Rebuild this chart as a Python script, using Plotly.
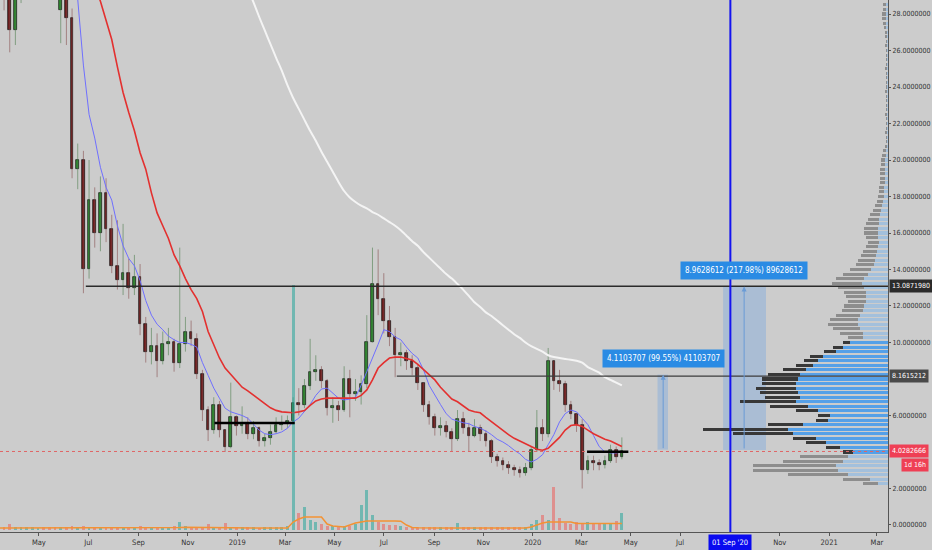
import numpy as np
import pandas as pd
import plotly.graph_objects as go

# ---------------- data (weekly aggregation) ----------------
week_start = "2018-03-12"
n_weeks = 111
dates = pd.date_range(week_start, periods=n_weeks, freq="7D")

open_ = [31.5, 30.5, 29.0, 27.1, 29.2, 31.0, 32.5, 33.5, 34.0, 33.0,
         32.0, 28.2, 29.6, 27.8, 19.5, 20.0, 14.0, 17.8, 16.0, 18.2,
         16.2, 14.2, 13.4, 13.8, 13.0, 13.6, 11.0, 9.5, 9.8, 9.0,
         9.9, 10.0, 8.9, 9.9, 10.6, 10.2, 8.3, 6.3, 5.2, 6.6,
         5.2, 4.3, 5.9, 5.4, 5.6, 5.0, 5.3, 4.6, 4.75, 5.1,
         5.5, 5.6, 5.7, 6.7, 6.6, 7.6, 8.4, 8.5, 7.9, 6.4,
         6.5, 6.3, 8.0, 7.2, 7.3, 7.7, 10.0, 13.2, 12.4, 11.2,
         10.3, 9.3, 9.4, 9.0, 8.6, 7.8, 6.6, 5.9, 5.3, 5.45,
         5.1, 4.7, 5.8, 5.3, 4.9, 5.3, 5.0, 4.6, 3.7, 3.5,
         3.3, 3.1, 3.0, 2.85, 3.1, 4.1, 5.3, 5.0, 9.0, 7.9,
         7.7, 6.6, 6.1, 5.5, 3.0, 3.5, 3.4, 3.3, 3.5, 4.1,
         3.7]
close = [30.5, 29.0, 27.1, 29.2, 31.0, 32.5, 33.5, 34.0, 33.0, 32.0,
         30.5, 29.6, 27.8, 19.5, 20.0, 14.0, 17.8, 16.0, 18.2, 16.2,
         14.2, 13.4, 13.8, 13.0, 13.6, 11.0, 9.5, 9.8, 9.0, 9.9,
         10.0, 8.9, 9.9, 10.6, 10.2, 8.3, 6.3, 5.2, 6.6, 5.2,
         4.3, 5.9, 5.4, 5.6, 5.0, 5.3, 4.6, 4.75, 5.1, 5.5,
         5.6, 5.7, 6.7, 6.6, 7.6, 8.4, 8.5, 7.9, 6.4, 6.5,
         6.3, 8.0, 7.2, 7.3, 7.7, 10.0, 13.2, 12.4, 11.2, 10.3,
         9.3, 9.4, 9.0, 8.6, 7.8, 6.6, 5.9, 5.3, 5.45, 5.1,
         4.7, 5.8, 5.3, 4.9, 5.3, 5.0, 4.6, 3.7, 3.5, 3.3,
         3.1, 3.0, 2.85, 3.1, 4.1, 5.3, 5.0, 9.0, 7.9, 7.7,
         6.6, 6.1, 5.5, 3.0, 3.5, 3.4, 3.3, 3.5, 4.1, 3.7,
         4.03]
high = [32.0, 31.0, 29.6, 30.0, 32.0, 33.5, 34.5, 35.0, 34.5, 33.5,
        32.5, 30.5, 30.0, 28.3, 20.9, 20.5, 20.0, 18.5, 19.1, 19.0,
        17.0, 16.7, 16.5, 14.6, 14.8, 14.3, 11.4, 10.8, 10.5, 10.6,
        10.8, 10.2, 15.2, 11.4, 11.2, 10.5, 8.5, 6.5, 7.0, 6.8,
        5.2, 7.8, 6.0, 6.5, 5.9, 5.7, 5.4, 5.0, 5.5, 5.9,
        6.0, 6.0, 7.0, 7.5, 8.0, 10.2, 9.3, 8.7, 8.0, 7.0,
        6.8, 8.7, 8.5, 8.0, 8.2, 11.5, 15.2, 15.1, 13.8, 12.0,
        10.8, 10.0, 9.6, 9.3, 8.8, 7.8, 6.8, 6.1, 5.9, 5.7,
        5.3, 6.3, 6.2, 5.6, 5.8, 5.5, 5.2, 4.7, 3.9, 3.7,
        3.5, 3.3, 3.2, 3.4, 4.3, 6.3, 5.8, 9.7, 9.0, 8.5,
        7.9, 6.8, 6.1, 5.8, 3.8, 3.8, 3.6, 3.8, 4.4, 4.3,
        4.8]
low = [30.0, 28.2, 25.9, 26.3, 28.6, 30.5, 31.8, 32.5, 32.0, 31.0,
       29.8, 26.4, 26.3, 19.0, 18.4, 12.7, 13.5, 15.2, 15.0, 15.5,
       13.8, 12.9, 12.6, 12.4, 12.6, 10.4, 8.9, 8.8, 8.1, 8.8,
       9.3, 8.4, 8.6, 9.5, 9.8, 8.0, 5.7, 4.6, 5.0, 4.8,
       4.0, 4.2, 4.9, 5.0, 4.7, 4.7, 4.3, 4.3, 4.4, 5.0,
       5.2, 5.3, 5.5, 6.0, 6.4, 7.4, 7.9, 7.5, 6.0, 5.6,
       5.7, 6.2, 5.9, 6.8, 6.6, 7.5, 10.0, 11.5, 10.5, 9.8,
       8.1, 8.7, 8.5, 8.2, 7.4, 6.2, 5.5, 4.9, 4.9, 4.8,
       4.0, 4.6, 5.0, 4.0, 4.8, 4.6, 4.3, 3.4, 3.2, 3.0,
       2.8, 2.7, 2.6, 2.7, 3.0, 4.0, 4.6, 4.8, 7.4, 7.3,
       6.2, 5.8, 5.1, 2.0, 2.8, 3.0, 3.0, 3.1, 3.4, 3.4,
       3.6]

volume = [3, 3, 6, 3, 3, 3, 3, 2, 3, 3, 3, 3, 3, 4, 3,
          4, 3, 3, 3, 2, 3, 3, 3, 3, 3, 4, 3, 3, 3, 3, 3,
          4, 8, 4, 3, 3, 3, 6, 3, 3, 7,
          3, 3, 3, 3, 3, 2, 3, 3, 3, 3, 4,
          245, 17, 23, 10, 8, 6, 4, 4, 4, 4, 4, 6, 25, 40, 15, 8, 6, 5, 5,
          4, 3, 3, 3, 3, 3, 3, 3, 3, 3,
          7,
          3, 3, 3, 3, 3, 3, 3, 3, 3, 3, 3, 3,
          6, 10, 15, 10, 43, 12,
          7, 6, 8, 7, 8, 6, 7, 6, 7,
          9, 17]
vol_ma = [2, 2, 2.2, 2.2, 2, 2, 2, 2, 2, 2, 2, 2, 2.1, 2.2, 2.2, 2.2,
          2.1, 2, 2, 2, 2, 2, 2, 2, 2, 2.1, 2.1, 2, 2, 2, 2,
          2.4, 2.6, 2.8, 2.8, 2.7, 2.6, 2.8, 2.8, 2.7, 2.8, 2.6, 2.4, 2.3, 2.3,
          2.1, 2, 2, 2, 2, 2, 2.1,
          8, 11, 13, 13, 13.5, 13, 6, 4, 3.5, 3, 5, 7, 8, 9, 9, 9.2, 9.2, 9, 9, 8.8, 5,
          2.5, 2.2, 2, 2, 2, 2, 2, 2, 2.2, 2.2, 2, 2, 2, 2, 2, 2, 2, 2, 2, 2, 2,
          3, 5, 7, 8, 8, 8.5, 8.2, 8,
          6.5, 6.6, 6.5, 6.5, 6.4, 6.5, 6.5, 6.6, 6.5]

ma_blue = [None] * 13 + [
    30.5, 28.8, 25.2, 22.5, 21.2, 19.6, 18.5, 17.8, 16.4, 15.3,
    14.6, 14.2, 13.4, 12.3, 11.5, 11.0, 10.7, 10.35, 10.15, 10.0,
    10.0, 9.9, 9.75, 8.9, 8.2, 7.5, 6.95, 6.4, 6.2, 6.1,
    6.0, 5.85, 5.55, 5.2, 5.0, 4.95, 5.0, 5.1, 5.3, 5.65,
    5.85, 6.2, 6.6, 7.1, 7.45, 7.5, 7.25, 6.95, 6.85, 6.9,
    7.0, 7.65, 8.4, 9.1, 9.9, 10.7, 10.6, 10.3, 10.15, 9.75,
    9.4, 9.15, 8.5, 7.65, 7.1, 6.6, 6.1, 5.8, 5.7, 5.6,
    5.55, 5.4, 5.3, 5.15, 4.95, 4.7, 4.55, 4.35, 4.1, 3.9,
    3.6, 3.45, 3.6, 3.85, 4.4, 4.95, 5.65, 6.1, 6.3, 6.2,
    5.85, 5.5, 4.9, 4.3, 4.0, 3.95, 3.95, 4.0]
ma_red = [None] * 16 + [
    30.5, 29.5, 28.7, 27.7, 26.6, 25.1, 23.7, 22.6, 21.6, 20.4,
    19.5, 18.2, 17.1, 16.4, 15.7, 14.8, 14.2, 13.5, 12.9, 12.4,
    11.7, 10.6, 9.85, 9.15, 8.6, 8.25, 7.85, 7.55, 7.35, 7.1,
    6.85, 6.65, 6.42, 6.28, 6.2, 6.16, 6.15, 6.2, 6.27, 6.55,
    6.8, 6.9, 6.95, 6.95, 6.95, 6.95, 6.95, 6.95, 7.1, 7.4,
    7.95, 8.6, 8.9, 9.15, 9.2, 9.2, 9.12, 9.04, 8.8, 8.5,
    8.25, 7.95, 7.55, 7.2, 6.9, 6.75, 6.5, 6.3, 6.2, 6.15,
    5.9, 5.65, 5.4, 5.15, 4.95, 4.75, 4.6, 4.45, 4.3, 4.15,
    4.1, 4.2, 4.5, 4.8, 5.2, 5.45, 5.5, 5.4, 5.2, 5.0,
    4.85, 4.7, 4.6, 4.45, 4.3]
ma_white = [None] * 44 + [
    29.4, 28.65, 27.85, 27.1, 26.35, 25.6, 24.9, 24.1, 23.4, 22.8,
    22.2, 21.6, 21.05, 20.45, 19.9, 19.35, 18.8, 18.3, 17.95, 17.7,
    17.5, 17.35, 17.15, 17.0, 16.8, 16.6, 16.4, 16.15, 15.85, 15.55,
    15.3, 14.95, 14.65, 14.35, 14.05, 13.75, 13.5, 13.2, 12.9, 12.55,
    12.2, 11.95, 11.65, 11.45, 11.2, 10.95, 10.7, 10.45, 10.25, 10.0,
    9.8, 9.65, 9.5, 9.3, 9.2, 9.15, 9.1, 9.05, 9.0, 8.9,
    8.65, 8.5, 8.35, 8.1, 7.95, 7.8, 7.65]

# visible-range volume profile (row centre price, total length, up part)
vp_price = [round(p, 2) for p in np.arange(2.25, 28.51, 0.25)]
vp_total = ([25, 45, 100, 135, 135, 105, 88, 45, 62, 82, 95, 155, 185, 120, 72, 70,
             92, 118, 148, 123, 128, 132, 126, 126, 120, 105, 92, 84, 78, 64, 55, 45]
            + [40, 48, 55, 60, 58, 52, 46, 44, 40, 42, 44, 50, 56, 52, 45, 38]
            + [32, 30, 27, 25, 22, 20, 22, 24, 24, 22, 20, 18, 15, 13, 11, 10]
            + [9, 9, 8, 8, 8, 8, 7, 7, 6, 5, 3]
            + [2, 2, 3, 2, 2, 2, 3, 2, 2, 2, 2, 3, 2, 2, 2, 2, 3, 2, 2, 2, 2, 3, 2, 3]
            + [3, 4, 5, 6, 6, 5, 5])
vp_up = ([10, 18, 40, 50, 52, 45, 40, 35, 48, 62, 72, 95, 100, 85, 60, 58,
          70, 80, 92, 88, 90, 92, 92, 90, 88, 82, 75, 70, 65, 52, 45, 38]
         + [25, 25, 28, 30, 30, 28, 25, 24, 22, 22, 22, 24, 26, 24, 20, 17]
         + [14, 13, 12, 11, 10, 9, 10, 10, 10, 9, 9, 8, 7, 6, 5, 4]
         + [4, 4, 3, 3, 3, 3, 3, 3, 2, 2, 1]
         + [1] * 24
         + [1, 2, 2, 2, 2, 2, 2])
value_area = (3.9, 10.1)

level_top = 13.0871980
level_mid = 8.1615212
last_price = 4.0282666
range1 = (4.1290000, 8.2393707, "4.1103707 (99.55%) 41103707")
range2 = (4.1120000, 13.0748612, "8.9628612 (217.98%) 89628612")

x_tickvals = ["2018-05-01", "2018-07-01", "2018-09-01", "2018-11-01", "2019-01-01",
              "2019-03-01", "2019-05-01", "2019-07-01", "2019-09-01", "2019-11-01",
              "2020-01-01", "2020-03-01", "2020-05-01", "2020-07-01", "2020-11-01",
              "2021-01-01", "2021-03-01"]
x_ticktext = ["May", "Jul", "Sep", "Nov", "2019", "Mar", "May", "Jul", "Sep", "Nov",
              "2020", "Mar", "May", "Jul", "Nov", "2021", "Mar"]
y_tickvals = [0, 2, 6, 10, 12, 14, 16, 18, 20, 22, 24, 26, 28]

# ---------------- figure ----------------
FONT = "DejaVu Sans Condensed, Liberation Sans Narrow, Arial Narrow, sans-serif"
DAY = 86400000
X_LEFT, X_RIGHT = "2018-03-14", "2021-03-14 16:00"

fig = go.Figure()

is_up = [c >= o for o, c in zip(open_, close)]

# volume
fig.add_trace(go.Bar(
    x=dates, y=volume, width=3.5 * DAY, xaxis="x", yaxis="y2",
    marker=dict(color=["rgba(38,166,154,0.55)" if u else "rgba(239,83,80,0.5)" for u in is_up],
                line=dict(width=0)),
    hoverinfo="skip"))
fig.add_trace(go.Scatter(x=dates, y=vol_ma, mode="lines", xaxis="x", yaxis="y2",
                         line=dict(color="#f39233", width=1.5), hoverinfo="skip"))

# wicks
for flag, col in ((True, "rgba(70,120,70,0.55)"), (False, "rgba(130,70,70,0.55)")):
    wx, wy = [], []
    for d, h, l, u in zip(dates, high, low, is_up):
        if u == flag:
            wx += [d, d, None]
            wy += [l, h, None]
    fig.add_trace(go.Scatter(x=wx, y=wy, mode="lines", line=dict(color=col, width=1),
                             hoverinfo="skip"))

# bodies
fig.add_trace(go.Bar(
    x=dates, y=[max(abs(c - o), 0.06) for o, c in zip(open_, close)],
    base=[min(o, c) for o, c in zip(open_, close)], width=3.3 * DAY,
    marker=dict(color=["#2e8a2e" if u else "#6e1c1c" for u in is_up],
                line=dict(color="#151515", width=0.7)),
    hoverinfo="skip"))

# moving averages
fig.add_trace(go.Scatter(x=dates, y=ma_blue, mode="lines", line=dict(color="#6f6fff", width=1)))
fig.add_trace(go.Scatter(x=dates, y=ma_red, mode="lines", line=dict(color="#e3302f", width=1.6)))
fig.add_trace(go.Scatter(x=dates, y=ma_white, mode="lines",
                         line=dict(color="#f4f4f4", width=2, shape="spline", smoothing=0.6)))

# volume profile
in_va = [value_area[0] <= p <= value_area[1] for p in vp_price]
fig.add_trace(go.Bar(
    y=vp_price, x=vp_up, base=[0] * len(vp_up), orientation="h", width=0.17,
    xaxis="x2", yaxis="y",
    marker=dict(color=["#55a0e8" if v else "#a3c0dc" for v in in_va], line=dict(width=0)),
    hoverinfo="skip"))
fig.add_trace(go.Bar(
    y=vp_price, x=[t - u for t, u in zip(vp_total, vp_up)], base=vp_up, orientation="h",
    width=0.17, xaxis="x2", yaxis="y",
    marker=dict(color=["#383838" if v else "#8d8d8d" for v in in_va], line=dict(width=0)),
    hoverinfo="skip"))

shapes = [
    dict(type="line", xref="x", yref="y", x0="2018-06-28", x1=X_RIGHT, y0=level_top, y1=level_top,
         line=dict(color="#2a2a2a", width=1.5)),
    dict(type="line", xref="x", yref="y", x0="2019-07-17", x1=X_RIGHT, y0=level_mid, y1=level_mid,
         line=dict(color="#3c3c3c", width=1.2)),
    dict(type="line", xref="x", yref="y", x0=X_LEFT, x1=X_RIGHT, y0=last_price, y1=last_price,
         line=dict(color="#e06464", width=1, dash="dot")),
    dict(type="line", xref="x", yref="y", x0="2018-12-04", x1="2019-03-13", y0=5.59, y1=5.59,
         line=dict(color="#000000", width=2.5)),
    dict(type="line", xref="x", yref="y", x0="2020-03-08", x1="2020-04-28", y0=4.02, y1=4.02,
         line=dict(color="#000000", width=2.5)),
    dict(type="rect", xref="x", yref="y", x0="2020-06-03", x1="2020-06-16",
         y0=range1[0], y1=range1[1], fillcolor="rgba(33,130,243,0.2)",
         line=dict(width=0), layer="below"),
    dict(type="rect", xref="x", yref="y", x0="2020-08-23", x1="2020-10-15",
         y0=range2[0], y1=range2[1], fillcolor="rgba(33,130,243,0.2)",
         line=dict(width=0), layer="below"),
    dict(type="line", xref="x", yref="paper", x0="2020-09-01", x1="2020-09-01", y0=0, y1=1,
         line=dict(color="#1414f0", width=2)),
]

annotations = []
for cx, (lo, hi, txt), ly in (("2020-06-10", range1, 9.15), ("2020-09-18", range2, 13.92)):
    annotations.append(dict(x=cx, y=hi, ax=cx, ay=lo, xref="x", yref="y", axref="x", ayref="y",
                            text="", showarrow=True, arrowhead=2, arrowsize=1, arrowwidth=1,
                            arrowcolor="#6a9bd6"))
    annotations.append(dict(x=cx, y=ly, xref="x", yref="y", text=txt, showarrow=False,
                            bgcolor="#2a8be4", borderpad=4,
                            font=dict(family=FONT, size=8, color="white")))

for val, bg in ((level_top, "#2b2b2b"), (level_mid, "#4a4a4a"), (last_price, "#ef3f55")):
    annotations.append(dict(x=1.0, y=val, xref="paper", yref="y", xanchor="left", xshift=1,
                            text="%.7f" % val, showarrow=False, bgcolor=bg, borderpad=2,
                            font=dict(family=FONT, size=7, color="white")))
annotations.append(dict(x=1.0459, y=last_price, xref="paper", yref="y", xanchor="right",
                        yshift=-14, text="1d 16h", showarrow=False, bgcolor="#ef3f55",
                        borderpad=2, font=dict(family=FONT, size=7, color="white")))
annotations.append(dict(x="2020-09-01", y=0, xref="x", yref="paper", yanchor="top", yshift=-2,
                        text="01 Sep '20", showarrow=False, bgcolor="#0a0af0", borderpad=3,
                        font=dict(family=FONT, size=7.5, color="white")))

fig.update_layout(
    width=932, height=550, margin=dict(l=0, r=44, t=0, b=18, autoexpand=False),
    paper_bgcolor="#cccccc", plot_bgcolor="#cccccc",
    showlegend=False, barmode="overlay", bargap=0,
    font=dict(family=FONT, size=7, color="#333333"),
    xaxis=dict(type="date", range=[X_LEFT, X_RIGHT], showgrid=False, zeroline=False,
               automargin=False,
               showline=True, linecolor="#555555", ticks="outside", ticklen=3,
               tickcolor="#555555", tickvals=x_tickvals, ticktext=x_ticktext,
               tickfont=dict(family=FONT, size=7.5, color="#333333")),
    xaxis2=dict(overlaying="x", range=[888, 0], visible=False),
    yaxis=dict(side="right", range=[-0.384, 28.767], showgrid=False, zeroline=False,
               automargin=False,
               showline=True, linecolor="#555555", ticks="outside", ticklen=2,
               tickcolor="#555555", tickvals=y_tickvals,
               ticktext=["%.7f" % v for v in y_tickvals],
               tickfont=dict(family=FONT, size=7, color="#333333")),
    yaxis2=dict(overlaying="y", range=[-2, 530], visible=False),
    shapes=shapes, annotations=annotations,
)

fig.write_html("out.html", config={"displayModeBar": False},
               post_script="document.body.style.margin='0';document.body.style.background='#cccccc';")
